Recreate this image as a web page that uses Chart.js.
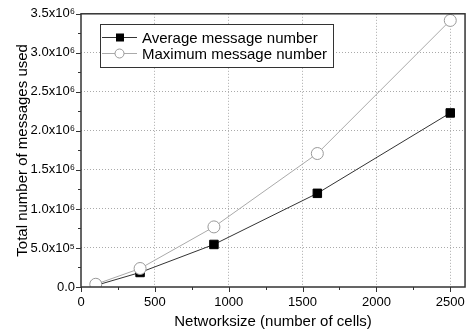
<!DOCTYPE html>
<html>
<head>
<meta charset="utf-8">
<script src="https://cdn.jsdelivr.net/npm/chart.js@4.4.1/dist/chart.umd.min.js"></script>
<style>
html, body { margin: 0; padding: 0; background: #fff; }
#wrap { width: 473px; height: 331px; }
</style>
</head>
<body>
<div id="wrap"><canvas id="myChart"></canvas></div>
<script>
// data
const networkSize = [100, 400, 900, 1600, 2500];
const averageMessages = [20000, 186000, 545000, 1200000, 2230000];
const maximumMessages = [35000, 237000, 770000, 1710000, 3415000];
const seriesNames = ['Average message number', 'Maximum message number'];
const yTickLabels = ['0.0', '5.0x10⁵', '1.0x10⁶', '1.5x10⁶', '2.0x10⁶', '2.5x10⁶', '3.0x10⁶', '3.5x10⁶'];
const xTickValues = [0, 500, 1000, 1500, 2000, 2500];

const FONT = 'Liberation Sans, Arial, sans-serif';
const AXIS = '#333';

// frame, outward ticks (major + minor) and the legend box
const frameTicks = {
    id: 'frameTicks',
    afterDatasetsDraw(chart) {
        const ctx = chart.ctx;
        const a = chart.chartArea;
        const xs = chart.scales.x, ys = chart.scales.y;
        ctx.save();
        ctx.strokeStyle = AXIS;
        ctx.lineWidth = 1.5;
        ctx.strokeRect(a.left, a.top, a.right - a.left, a.bottom - a.top);
        ctx.lineWidth = 1;
        ctx.beginPath();
        for (let v = 0; v <= 2500; v += 250) {
            const px = Math.round(xs.getPixelForValue(v)) + 0.5;
            const len = v % 500 === 0 ? 5 : 3;
            ctx.moveTo(px, a.bottom);
            ctx.lineTo(px, a.bottom + len);
        }
        for (let v = 0; v <= 3500000; v += 250000) {
            const py = Math.round(ys.getPixelForValue(v)) + 0.5;
            const len = v % 500000 === 0 ? 5 : 3;
            ctx.moveTo(a.left, py);
            ctx.lineTo(a.left - len, py);
        }
        ctx.stroke();

        // legend
        const bx = 100, by = 24, bw = 233, bh = 43;
        ctx.fillStyle = '#fff';
        ctx.fillRect(bx, by, bw, bh);
        ctx.strokeStyle = '#333';
        ctx.lineWidth = 1;
        ctx.strokeRect(bx + 0.5, by + 0.5, bw, bh);
        const rows = [by + 13.5, by + 29.5];
        chart.data.datasets.slice().sort((p, q) => p.legendRank - q.legendRank).forEach((ds, i) => {
            const y = rows[i];
            ctx.strokeStyle = ds.borderColor;
            ctx.beginPath();
            ctx.moveTo(bx + 2, y);
            ctx.lineTo(bx + 37, y);
            ctx.stroke();
            if (ds.pointStyle === 'rect') {
                ctx.fillStyle = '#000';
                ctx.fillRect(bx + 16, y - 4, 8, 8);
            } else {
                ctx.fillStyle = '#fff';
                ctx.strokeStyle = '#999';
                ctx.beginPath();
                ctx.arc(bx + 19.5, y, 4.5, 0, Math.PI * 2);
                ctx.fill();
                ctx.stroke();
            }
            ctx.fillStyle = '#000';
            ctx.font = '15px ' + FONT;
            ctx.textBaseline = 'middle';
            ctx.fillText(ds.label, bx + 42, y + 1);
        });
        ctx.restore();
    }
};

const ctx = document.getElementById('myChart').getContext('2d');
const myChart = new Chart(ctx, {
    type: 'line',
    data: {
        datasets: [{
            label: seriesNames[1],
            legendRank: 1,
            order: 0,
            data: networkSize.map((x, i) => ({ x: x, y: maximumMessages[i] })),
            borderColor: '#aaa',
            borderWidth: 1,
            pointStyle: 'circle',
            pointRadius: 6,
            pointBackgroundColor: '#fff',
            pointBorderColor: '#999',
            pointBorderWidth: 1,
            tension: 0
        }, {
            label: seriesNames[0],
            legendRank: 0,
            order: 1,
            data: networkSize.map((x, i) => ({ x: x, y: averageMessages[i] })),
            borderColor: '#333',
            borderWidth: 1,
            pointStyle: 'rect',
            pointRadius: 6,
            pointBackgroundColor: '#000',
            pointBorderColor: '#000',
            pointBorderWidth: 1,
            tension: 0
        }]
    },
    options: {
        responsive: true,
        maintainAspectRatio: false,
        animation: false,
        layout: { padding: { top: 3, right: 2, left: 14, bottom: 0 } },
        plugins: {
            legend: { display: false },
            tooltip: { enabled: false }
        },
        scales: {
            x: {
                type: 'linear',
                min: 0,
                max: 2600,
                afterBuildTicks: s => { s.ticks = xTickValues.map(v => ({ value: v })); },
                afterFit: s => { s.height = 44; },
                ticks: {
                    padding: 8,
                    color: '#000',
                    font: { family: FONT, size: 13 },
                    callback: v => String(v)
                },
                title: {
                    display: true,
                    text: 'Networksize (number of cells)',
                    color: '#000',
                    font: { family: FONT, size: 15 },
                    padding: { top: 2, bottom: 0 }
                },
                border: { display: false, dash: [1, 2] },
                grid: {
                    drawTicks: false,
                    color: c => c.tick.value === 0 ? 'transparent' : '#aaa',
                    lineWidth: 1
                }
            },
            y: {
                type: 'linear',
                min: 0,
                max: 3500000,
                ticks: {
                    stepSize: 500000,
                    padding: 6,
                    color: '#000',
                    font: { family: FONT, size: 13 },
                    callback: v => yTickLabels[Math.round(v / 500000)]
                },
                afterFit: s => { s.width = 67; },
                title: {
                    display: true,
                    text: 'Total number of messages used',
                    color: '#000',
                    font: { family: FONT, size: 15 },
                    padding: { top: 0, bottom: 4 }
                },
                border: { display: false, dash: [1, 2] },
                grid: {
                    drawTicks: false,
                    color: c => (c.tick.value === 0 || c.tick.value === 3500000) ? 'transparent' : '#aaa',
                    lineWidth: 1
                }
            }
        }
    },
    plugins: [frameTicks]
});
</script>
</body>
</html>
